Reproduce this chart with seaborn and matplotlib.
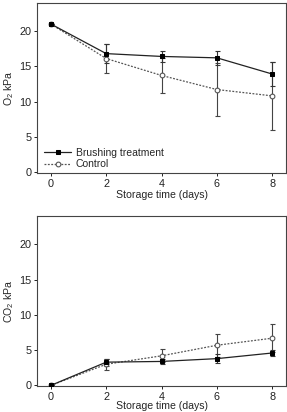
import numpy as np
import pandas as pd
import seaborn as sns
import matplotlib.pyplot as plt

# storage days
days = [0, 2, 4, 6, 8]

# O2 (kPa)
o2_brush = [21.0, 16.8, 16.4, 16.2, 13.9]
o2_brush_err = [0.0, 1.4, 0.8, 1.0, 1.7]
o2_ctrl = [21.0, 16.1, 13.7, 11.7, 10.8]
o2_ctrl_err = [0.0, 2.1, 2.5, 3.8, 4.8]

# CO2 (kPa)
co2_brush = [0.0, 3.3, 3.4, 3.8, 4.6]
co2_brush_err = [0.0, 0.5, 0.4, 0.6, 0.4]
co2_ctrl = [0.0, 3.0, 4.2, 5.7, 6.7]
co2_ctrl_err = [0.0, 0.8, 0.9, 1.6, 2.0]

sns.set_style('ticks')
plt.rcParams['font.family'] = ['Liberation Sans', 'DejaVu Sans']
plt.rcParams['mathtext.fontset'] = 'custom'
plt.rcParams['mathtext.rm'] = 'Liberation Sans'
plt.rcParams['mathtext.it'] = 'Liberation Sans'

fig = plt.figure(figsize=(2.87, 4.12), dpi=100)
ax1 = fig.add_axes([0.129, 0.580, 0.868, 0.413])
ax2 = fig.add_axes([0.129, 0.062, 0.868, 0.413])


def draw(ax, brush, brush_err, ctrl, ctrl_err, ylabel, legend, xpad):
    df_b = pd.DataFrame({'day': days, 'val': brush})
    df_c = pd.DataFrame({'day': days, 'val': ctrl})
    ax.errorbar(days, ctrl, yerr=ctrl_err, fmt='none', ecolor='#444444',
                elinewidth=0.8, capsize=1.8, capthick=0.8, zorder=2)
    ax.errorbar(days, brush, yerr=brush_err, fmt='none', ecolor='#333333',
                elinewidth=0.8, capsize=1.8, capthick=0.8, zorder=2)
    sns.lineplot(data=df_c, x='day', y='val', ax=ax, color='#555555',
                 linestyle=(0, (1.5, 1.2)), lw=0.9, marker='o', ms=3.4,
                 mfc='white', mec='#555555', mew=0.8, label='Control', zorder=3)
    sns.lineplot(data=df_b, x='day', y='val', ax=ax, color='#222222',
                 linestyle='-', lw=0.9, marker='s', ms=3.4, mfc='black',
                 mec='black', label='Brushing treatment', zorder=4)
    ax.set_xlim(-0.5, 8.5)
    ax.set_ylim(-0.15, 24)
    ax.set_xticks([0, 2, 4, 6, 8])
    ax.set_yticks([0, 5, 10, 15, 20])
    ax.tick_params(labelsize=7.8, length=2.5, width=0.7, pad=1.5, colors='#222222')
    for s in ax.spines.values():
        s.set_linewidth(0.8)
        s.set_color('#444444')
    ax.set_xlabel('Storage time (days)', fontsize=7.6, labelpad=xpad)
    ax.set_ylabel(ylabel, fontsize=7.6, labelpad=2)
    if legend:
        h, l = ax.get_legend_handles_labels()
        ax.legend(h[::-1], l[::-1], loc='lower left', bbox_to_anchor=(0.0, -0.02),
                  frameon=False, fontsize=7.5, handlelength=2.6, handletextpad=0.4,
                  labelspacing=0.1, borderaxespad=0.3)
    else:
        ax.get_legend().remove()


draw(ax1, o2_brush, o2_brush_err, o2_ctrl, o2_ctrl_err, r'O$_2$ kPa', True, 1)
draw(ax2, co2_brush, co2_brush_err, co2_ctrl, co2_ctrl_err, r'CO$_2$ kPa', False, -0.5)

fig.savefig('out.png', dpi=100)
